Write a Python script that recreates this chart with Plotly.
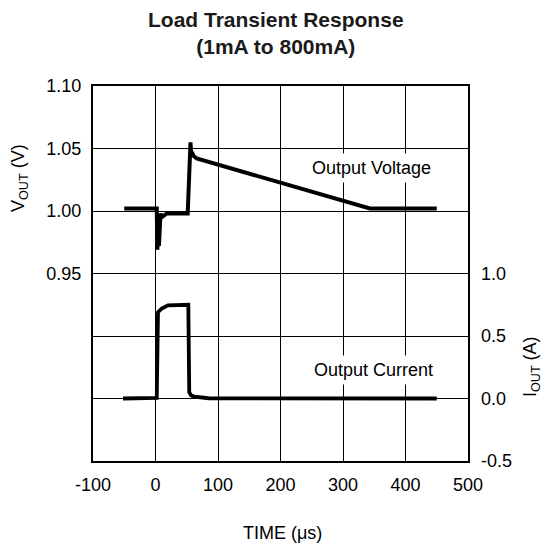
import plotly.graph_objects as go

# Time axis (µs)
time_v = [-50, 2, 3, 4.5, 5.5, 6.5, 8, 10, 14, 18, 51.5, 53.5, 55, 56, 57, 58, 61, 66, 343, 450]
vout = [1.002, 1.002, 0.969, 0.990, 0.972, 0.990, 0.998, 0.995, 0.997, 0.998, 0.998, 1.030, 1.052, 1.055, 1.046, 1.047, 1.044, 1.042, 1.002, 1.002]

time_i = [-52, 2, 4, 6, 10, 20, 52.5, 54, 57, 62, 70, 85, 450]
iout = [0.0, 0.005, 0.69, 0.70, 0.72, 0.745, 0.75, 0.05, 0.025, 0.015, 0.008, 0.002, 0.0]

x_ticks = [-100, 0, 100, 200, 300, 400, 500]
v_grid = [0.80, 0.85, 0.90, 0.95, 1.00, 1.05, 1.10]
v_labels = ["", "", "", "0.95", "1.00", "1.05", "1.10"]
i_ticks = [-0.5, 0.0, 0.5, 1.0]
i_labels = ["-0.5", "0.0", "0.5", "1.0"]

FONT = "Liberation Sans, Arial, Helvetica, sans-serif"

fig = go.Figure()
fig.add_trace(go.Scatter(x=time_v, y=vout, mode="lines",
                         line=dict(color="black", width=4), yaxis="y", showlegend=False))
fig.add_trace(go.Scatter(x=time_i, y=iout, mode="lines",
                         line=dict(color="black", width=3.8), yaxis="y2", showlegend=False))

fig.update_layout(
    width=546, height=548,
    margin=dict(l=93, r=78, t=86, b=87),
    paper_bgcolor="white", plot_bgcolor="white",
    font=dict(family=FONT, size=18, color="black"),
    showlegend=False,
    xaxis=dict(range=[-100, 500], tickvals=x_ticks, ticktext=[str(v) for v in x_ticks],
               showgrid=True, gridcolor="black", gridwidth=1.3,
               showline=True, linecolor="black", linewidth=2, mirror=True,
               zeroline=False, ticks="", ticklabelstandoff=6, fixedrange=True),
    yaxis=dict(range=[0.80, 1.10], tickvals=v_grid, ticktext=v_labels,
               showgrid=True, gridcolor="black", gridwidth=1.3,
               showline=True, linecolor="black", linewidth=2, mirror=True,
               zeroline=False, ticks="", ticklabelstandoff=6),
    yaxis2=dict(range=[-0.5, 2.5], tickvals=i_ticks, ticktext=i_labels,
                overlaying="y", side="right", showgrid=False, showline=False,
                zeroline=False, ticks="", ticklabelstandoff=12),
)

annots = [
    dict(text="<b>Load Transient Response<br>(1mA to 800mA)</b>", xref="paper", yref="paper",
         x=0.489, y=1.1413, xanchor="center", yanchor="middle", showarrow=False,
         font=dict(size=21, family=FONT, color="#1a1a1a")),
    dict(text="V<sub>OUT</sub> (V)", xref="paper", yref="paper", x=-0.1947, y=0.7547,
         textangle=-90, xanchor="center", yanchor="middle", showarrow=False),
    dict(text="I<sub>OUT</sub> (A)", xref="paper", yref="paper", x=1.1707, y=0.2507,
         textangle=-90, xanchor="center", yanchor="middle", showarrow=False),
    dict(text="TIME (μs)", xref="paper", yref="paper", x=0.504, y=-0.192,
         xanchor="center", yanchor="middle", showarrow=False),
    dict(text="Output Voltage", xref="x", yref="y", x=346, y=1.0342,
         xanchor="center", yanchor="middle", showarrow=False, bgcolor="white", borderpad=4),
    dict(text="Output Current", xref="x", yref="y", x=349, y=0.8728,
         xanchor="center", yanchor="middle", showarrow=False, bgcolor="white", borderpad=4),
]
fig.update_layout(annotations=annots)

fig.write_html("out.html", config={"displayModeBar": False},
               post_script="document.body.style.margin='0';")
